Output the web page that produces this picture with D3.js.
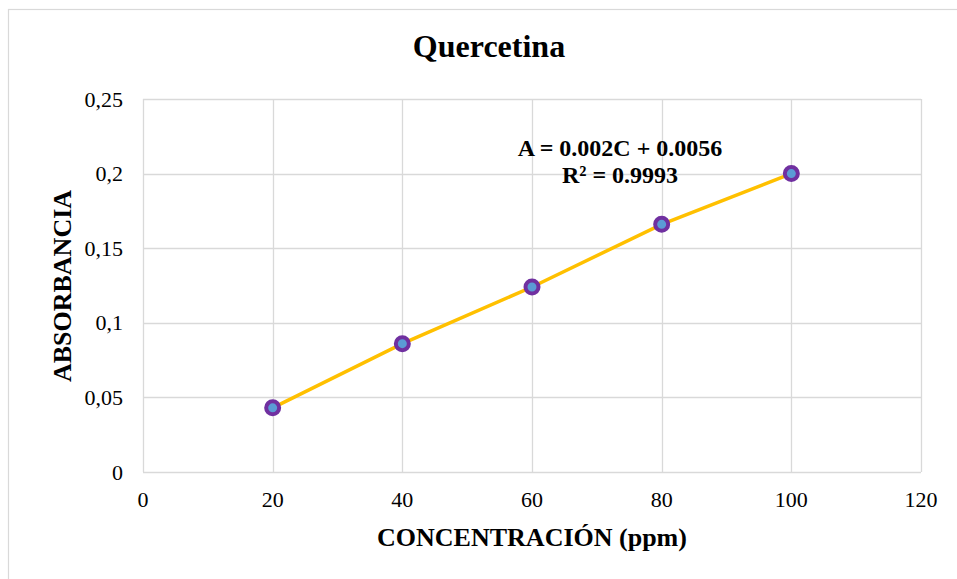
<!DOCTYPE html>
<html><head><meta charset="utf-8">
<script src="https://cdn.jsdelivr.net/npm/d3@7"></script>
<style>body{margin:0;background:#fff}svg{display:block}text{font-family:"Liberation Serif","Times New Roman",serif;fill:#000}</style>
</head><body><svg id="c" width="957" height="579"></svg>
<script>
const concentrations = [20, 40, 60, 80, 100];
const absorbances = [0.043, 0.086, 0.124, 0.166, 0.200];
const xTicks = [0, 20, 40, 60, 80, 100, 120];
const yTicks = [0, 0.05, 0.1, 0.15, 0.2, 0.25];
const yTickLabels = ["0", "0,05", "0,1", "0,15", "0,2", "0,25"];
const titleText = "Quercetina";
const xTitle = "CONCENTRACIÓN (ppm)";
const yTitle = "ABSORBANCIA";
const equationLines = ["A = 0.002C + 0.0056", "R² = 0.9993"];

const svg = d3.select("#c");
const grid = "#d9d9d9";
svg.append("rect").attr("x",8.5).attr("y",9.5).attr("width",1000).attr("height",1000)
  .attr("fill","#fff").attr("stroke",grid).attr("stroke-width",1.2);

const x = d3.scaleLinear().domain([0,120]).range([143,921]);
const y = d3.scaleLinear().domain([0,0.25]).range([472,99]);

const g = svg.append("g");
g.selectAll("line.v").data(xTicks).join("line")
  .attr("x1",d=>Math.round(x(d))+0.5).attr("x2",d=>Math.round(x(d))+0.5)
  .attr("y1",y(0.25)).attr("y2",y(0)).attr("stroke",grid).attr("stroke-width",1.3);
g.selectAll("line.h").data(yTicks).join("line")
  .attr("y1",d=>Math.round(y(d))+0.5).attr("y2",d=>Math.round(y(d))+0.5)
  .attr("x1",x(0)).attr("x2",x(120)).attr("stroke",grid).attr("stroke-width",1.3);

g.selectAll("text.xt").data(xTicks).join("text")
  .attr("x",d=>x(d)).attr("y",507).attr("text-anchor","middle")
  .attr("font-size",22).text(d=>d);
g.selectAll("text.yt").data(yTicks).join("text")
  .attr("x",123).attr("y",d=>y(d)+7.5).attr("text-anchor","end")
  .attr("font-size",22).text((d,i)=>yTickLabels[i]);

const line = d3.line().x((d,i)=>x(concentrations[i])).y(d=>y(d));
g.append("path").datum(absorbances).attr("d",line).attr("fill","none")
  .attr("stroke","#FFC000").attr("stroke-width",3.5);
g.selectAll("circle").data(absorbances).join("circle")
  .attr("cx",(d,i)=>x(concentrations[i])).attr("cy",d=>y(d)).attr("r",6.5)
  .attr("fill","#5B9BD5").attr("stroke","#7030A0").attr("stroke-width",4);

svg.append("text").attr("x",489).attr("y",57).attr("text-anchor","middle")
  .attr("font-size",32).attr("font-weight","bold").text(titleText);
svg.append("text").attr("x",532).attr("y",546).attr("text-anchor","middle")
  .attr("font-size",26).attr("font-weight","bold").text(xTitle);
svg.append("text").attr("transform","translate(71,286) rotate(-90)").attr("text-anchor","middle")
  .attr("font-size",26).attr("font-weight","bold").text(yTitle);
svg.selectAll("text.eq").data(equationLines).join("text")
  .attr("x",620).attr("y",(d,i)=>156+i*27).attr("text-anchor","middle")
  .attr("font-size",24).attr("font-weight","bold").text(d=>d);
</script></body></html>
